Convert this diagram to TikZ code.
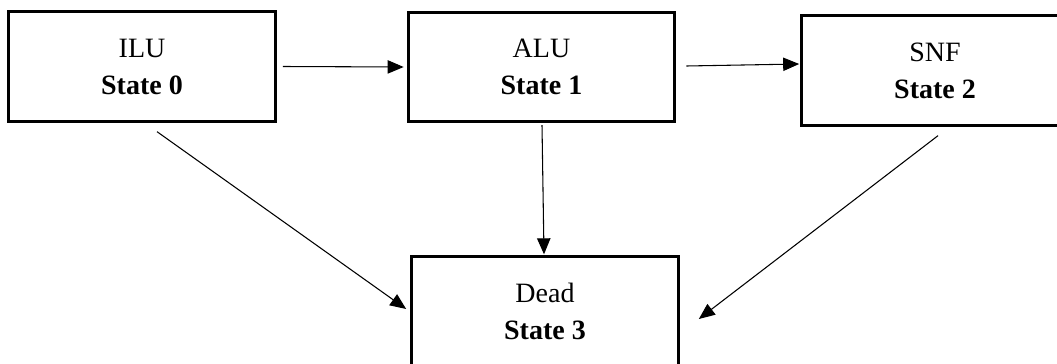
\documentclass[tikz,border=0pt]{standalone}
\usepackage{fontspec}
\setmainfont{Liberation Serif}
\usetikzlibrary{arrows.meta,calc}

\begin{document}
\begin{tikzpicture}[x=0.75pt,y=-0.75pt,
  statebox/.style={draw=black, line width=2.25pt, fill=white, inner sep=0pt,
    minimum width=200pt, minimum height=82pt, align=center,
    font=\fontsize{21}{27.75}\selectfont},
  arr/.style={draw=black, line width=0.8pt,
    -{Triangle[length=12pt,width=10pt]}}
]
\useasboundingbox (0,0) rectangle (1057,364);

% the four states
\node[statebox] (ilu)  at (142,66.5)  {ILU\\\textbf{State 0}};
\node[statebox] (alu)  at (541.5,67)  {ALU\\\textbf{State 1}};
\node[statebox] (snf)  at (935,70.5)  {SNF\\\textbf{State 2}};
\node[statebox] (dead) at (545,311.5) {Dead\\\textbf{State 3}};

% transitions
\draw[arr] ($(ilu.east)+(6,0)$)   -- ($(alu.west)+(-3,0)$);
\draw[arr] ($(alu.east)+(10,-1)$) -- ($(snf.west)+(-1,-6.5)$);
\draw[arr] ($(ilu.south)+(15,9)$) -- ($(dead.west)+(-4,-2.5)$);
\draw[arr] ($(alu.south)+(0.5,2)$) -- ($(dead.north)+(-1,-1)$);
\draw[arr] ($(snf.south)+(3,9)$)  -- ($(dead.east)+(19,7.5)$);
\end{tikzpicture}
\end{document}
